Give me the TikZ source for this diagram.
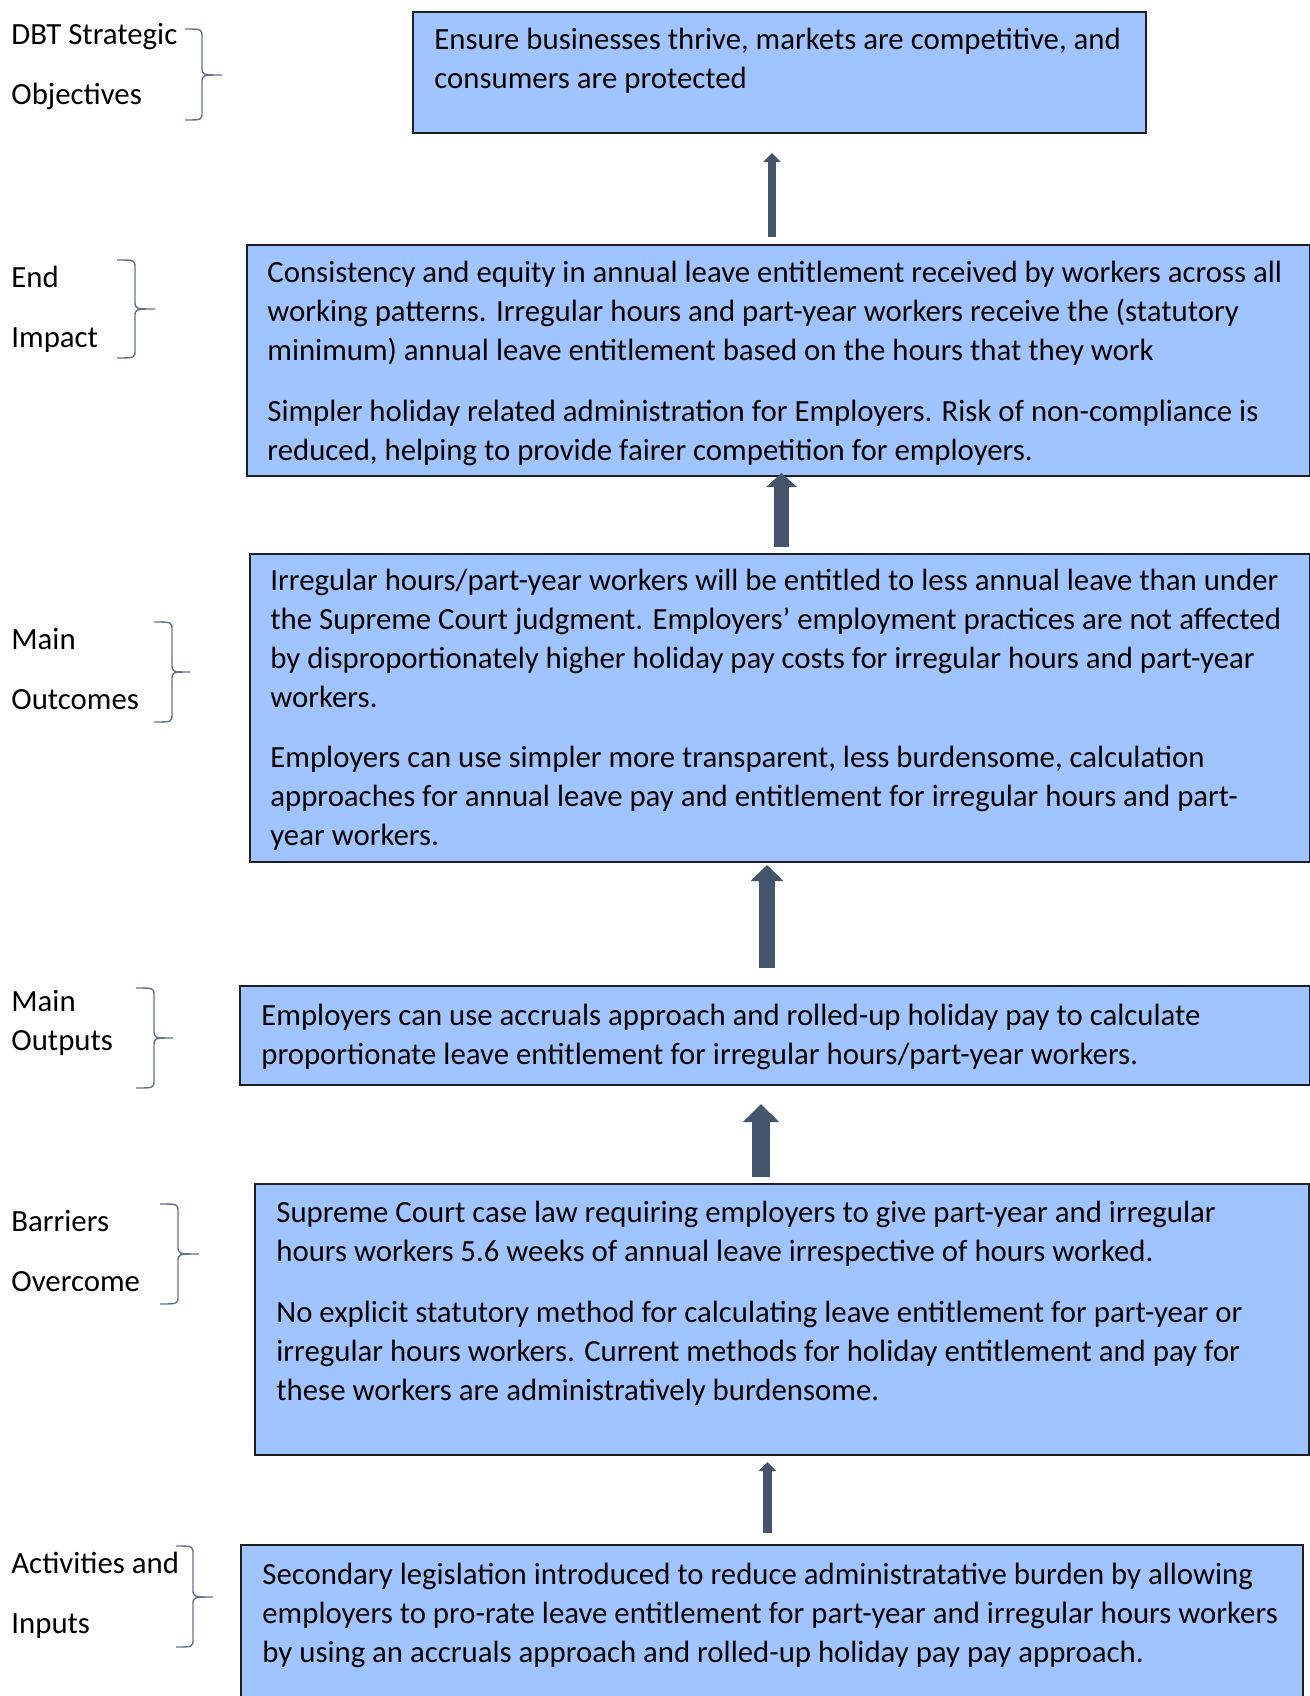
\documentclass[tikz,border=0pt]{standalone}
\usepackage{fontspec}
\setmainfont{Carlito}
\usetikzlibrary{arrows.meta}
\definecolor{boxfill}{RGB}{160,196,255}
\definecolor{boxline}{RGB}{30,30,35}
\definecolor{arrowcol}{RGB}{68,84,106}
\definecolor{bracecol}{RGB}{100,115,140}
\tikzset{
  box/.style={draw=boxline, line width=1pt, fill=boxfill, anchor=north west, inner sep=0pt},
  txt/.style={anchor=base west, align=left, inner sep=0pt, font=\fontsize{15.4pt}{19.5pt}\selectfont},
  lbl/.style={anchor=base west, align=left, inner sep=0pt, font=\fontsize{15.4pt}{19.5pt}\selectfont},
  thin arrow/.style={draw=arrowcol, line width=4.2pt, -{Triangle[length=4.5pt, width=8.5pt]}},
  thick arrow/.style={draw=arrowcol, line width=8pt, -{Triangle[length=8pt, width=16pt]}},
  bracestyle/.style={draw=bracecol, line width=0.7pt}
}
\newcommand\mybrace[6]{% L V T Y1 M Y2
  \draw[bracestyle] (#1,#4) .. controls (#2,#4) .. (#2,#4+8) -- (#2,#5-8)
     .. controls (#2,#5) .. (#3,#5) .. controls (#2,#5) .. (#2,#5+8)
     -- (#2,#6-8) .. controls (#2,#6) .. (#1,#6);}
\begin{document}
\begin{tikzpicture}[x=0.5pt,y=-0.5pt]
\useasboundingbox (0,0) rectangle (1310,1696);
\fill[white] (0,0) rectangle (1310,1696);

% boxes
\node[box, minimum width=366.5pt, minimum height=60.5pt] (b1) at (412,11) {};
\node[box, minimum width=531.5pt, minimum height=115.5pt] (b2) at (246,244) {};
\node[box, minimum width=530pt, minimum height=154pt] (b3) at (249,553) {};
\node[box, minimum width=535pt, minimum height=49.5pt] (b4) at (239,985) {};
\node[box, minimum width=527pt, minimum height=135.5pt] (b5) at (254,1183) {};
\node[box, minimum width=531pt, minimum height=90pt] (b6) at (240,1544) {};

% box texts (anchored at the baseline of their last line)
\node[txt] (t1) at (434,89) {Ensure businesses thrive, markets are competitive, and\\consumers are protected};
\node[txt] (t2a) at (267,360) {Consistency and equity in annual leave entitlement received by workers across all\\working patterns. Irregular hours and part-year workers receive the (statutory\\minimum) annual leave entitlement based on the hours that they work};
\node[txt] (t2b) at (267,460) {Simpler holiday related administration for Employers. Risk of non-compliance is\\reduced, helping to provide fairer competition for employers.};
\node[txt] (t3a) at (270,707) {Irregular hours/part-year workers will be entitled to less annual leave than under\\the Supreme Court judgment. Employers’ employment practices are not affected\\by disproportionately higher holiday pay costs for irregular hours and part-year\\workers.};
\node[txt] (t3b) at (270,845) {Employers can use simpler more transparent, less burdensome, calculation\\approaches for annual leave pay and entitlement for irregular hours and part-\\year workers.};
\node[txt] (t4) at (261,1064) {Employers can use accruals approach and rolled-up holiday pay to calculate\\proportionate leave entitlement for irregular hours/part-year workers.};
\node[txt] (t5a) at (276,1261) {Supreme Court case law requiring employers to give part-year and irregular\\hours workers 5.6 weeks of annual leave irrespective of hours worked.};
\node[txt] (t5b) at (276,1400) {No explicit statutory method for calculating leave entitlement for part-year or\\irregular hours workers. Current methods for holiday entitlement and pay for\\these workers are administratively burdensome.};
\node[txt] (t6) at (262,1662) {Secondary legislation introduced to reduce administratative burden by allowing\\employers to pro-rate leave entitlement for part-year and irregular hours workers\\by using an accruals approach and rolled-up holiday pay pay approach.};

% left labels
\node[lbl] (l1) at (11,105) {DBT Strategic\\[10.5pt]Objectives};
\node[lbl] (l2) at (11,347) {End\\[10.5pt]Impact};
\node[lbl] (l3) at (11,709) {Main\\[10.5pt]Outcomes};
\node[lbl] (l4) at (11,1050) {Main\\Outputs};
\node[lbl] (l5) at (11,1291) {Barriers\\[10.5pt]Overcome};
\node[lbl] (l6) at (11,1633) {Activities and\\[10.5pt]Inputs};

% braces
\mybrace{185}{202}{222}{29}{75}{120}
\mybrace{117}{135}{155}{260}{309}{358}
\mybrace{154}{172}{190}{622}{672}{722}
\mybrace{136}{154}{173}{988}{1038}{1088}
\mybrace{160}{178}{199}{1204}{1254}{1304}
\mybrace{176}{193}{213}{1546}{1597}{1647}

% arrows
\coordinate (a1s) at (772,237); \coordinate (a1e) at (772,153);
\coordinate (a2s) at (781.5,547); \coordinate (a2e) at (781.5,473);
\coordinate (a3s) at (767,968); \coordinate (a3e) at (767,865);
\coordinate (a4s) at (761,1177); \coordinate (a4e) at (761,1104);
\coordinate (a5s) at (767.5,1533); \coordinate (a5e) at (767.5,1462);
\draw[thin arrow] (a1s) -- (a1e);
\draw[draw=arrowcol, line width=7.5pt, -{Triangle[length=7pt, width=15pt]}] (a2s) -- (a2e);
\draw[thick arrow] (a3s) -- (a3e);
\draw[draw=arrowcol, line width=9pt, -{Triangle[length=9pt, width=17.5pt]}] (a4s) -- (a4e);
\draw[thin arrow] (a5s) -- (a5e);
\end{tikzpicture}
\end{document}
